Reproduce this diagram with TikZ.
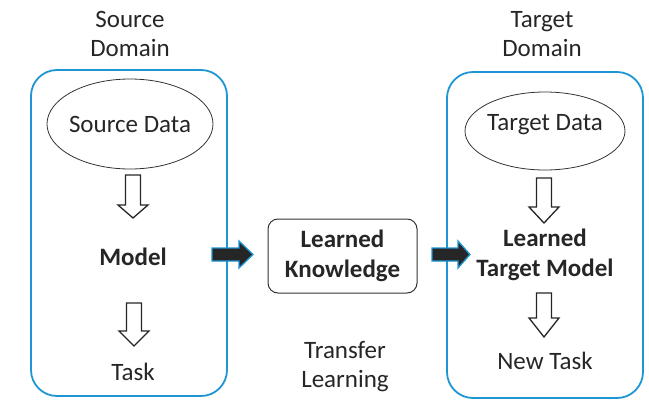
\documentclass[tikz,border=0pt]{standalone}
\usepackage{fontspec}
\setmainfont{Carlito}
\begin{document}
\begin{tikzpicture}[x=1pt,y=-1pt,
  every node/.style={font=\fontsize{25}{29}\selectfont, text=black!85, align=center, inner sep=0pt},
  domainbox/.style={draw=domblue, line width=1.8pt, rounded corners=26pt},
  datanode/.style={draw=black!80, line width=0.8pt},
  hollowarrow/.style={draw=black!85, fill=white, line width=1.3pt, line join=miter},
  darkarrow/.style={draw=domblue, fill=black!85, line width=1.3pt, line join=miter},
  knowbox/.style={draw=black!80, line width=1pt, rounded corners=10pt},
  boldtext/.style={font=\fontsize{25}{30}\selectfont\bfseries}]
\definecolor{domblue}{RGB}{30,150,212}
\useasboundingbox (0,0) rectangle (649,402);

% domain frames
\draw[domainbox] (31,70) rectangle (227,396);
\draw[domainbox] (447,72) rectangle (643,398);

% data ellipses
\draw[datanode] (130,124) ellipse [x radius=83, y radius=45];
\node (src) at (130,124) {Source Data};
\draw[datanode] (545,131) ellipse [x radius=80, y radius=39];
\node (tgt) at (545,125) {Target Data};

% headings
\node (srcdom) at (130,34) {Source\\Domain};
\node (tgtdom) at (542,34) {Target\\Domain};

% source side
\node[boldtext] (model) at (133,257) {Model};
\node (task) at (133,372) {Task};

% target side
\node[boldtext] (tmodel) at (545,255) {Learned\\Target Model};
\node (newtask) at (545,361) {New Task};

% knowledge box
\draw[knowbox] (268,219) rectangle (417,293);
\node[boldtext] (know) at (342.5,256) {Learned\\Knowledge};

\node (transfer) at (345,367) {Transfer\\Learning};

% hollow downward arrows: (x, top, head start, tip)
\foreach \cx/\ty/\hy/\by in {133/175/205/218, 134/303/331/346, 544/178/207/223, 544/293/318/337}{
  \draw[hollowarrow] (\cx-7.5,\ty) -- (\cx+7.5,\ty) -- (\cx+7.5,\hy) -- (\cx+15,\hy)
     -- (\cx,\by) -- (\cx-15,\hy) -- (\cx-7.5,\hy) -- cycle;
}

% dark transfer arrows: (left, head start, tip)
\foreach \lx/\hx/\tx in {212/239/253, 432/458/470}{
  \draw[darkarrow] (\lx,248) -- (\hx,248) -- (\hx,241) -- (\tx,254.5) -- (\hx,268)
     -- (\hx,261) -- (\lx,261) -- cycle;
}
\end{tikzpicture}
\end{document}
